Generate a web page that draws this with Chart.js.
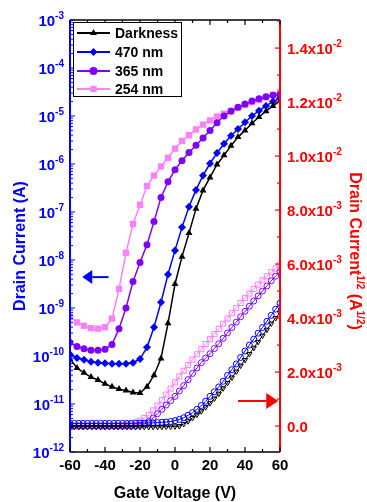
<!DOCTYPE html>
<html>
<head>
<meta charset="utf-8">
<script src="https://cdn.jsdelivr.net/npm/chart.js@4/dist/chart.umd.min.js"></script>
<style>
html, body { margin: 0; padding: 0; background: #fff; }
#wrap { width: 367px; height: 502px; }
</style>
</head>
<body>
<div id="wrap"><canvas id="chart" width="367" height="502"></canvas></div>
<script>
// transfer curves, log scale (values are log10 of drain current in A)
var gateLog = [-60,-56,-52,-48,-44,-40,-36,-32,-28,-24,-20,-16,-12,-8,-4,0,4,8,12,16,20,24,28,32,36,40,44,48,52,56,60];
var darkLog = [-10.06,-10.25,-10.35,-10.44,-10.50,-10.58,-10.64,-10.69,-10.72,-10.76,-10.77,-10.64,-10.40,-10.05,-9.32,-8.50,-7.93,-7.44,-6.93,-6.55,-6.28,-6.01,-5.82,-5.62,-5.44,-5.30,-5.15,-5.02,-4.90,-4.79,-4.69];
var blueLog = [-9.97,-10.04,-10.08,-10.12,-10.14,-10.15,-10.16,-10.16,-10.16,-10.14,-10.06,-9.82,-9.40,-8.88,-8.30,-7.80,-7.32,-6.89,-6.54,-6.24,-5.99,-5.77,-5.58,-5.41,-5.27,-5.13,-5.00,-4.89,-4.79,-4.70,-4.63];
var violetLog = [-9.72,-9.80,-9.85,-9.88,-9.88,-9.86,-9.76,-9.43,-9.00,-8.45,-8.05,-7.68,-7.20,-6.70,-6.37,-6.12,-5.93,-5.76,-5.61,-5.46,-5.30,-5.14,-5.00,-4.90,-4.82,-4.75,-4.69,-4.64,-4.60,-4.57,-4.55];
var pinkLog = [-9.18,-9.30,-9.37,-9.42,-9.43,-9.40,-9.22,-8.60,-7.85,-7.25,-6.85,-6.46,-6.24,-6.05,-5.87,-5.68,-5.52,-5.40,-5.28,-5.18,-5.09,-5.01,-4.95,-4.89,-4.83,-4.77,-4.71,-4.66,-4.61,-4.56,-4.50];

// sqrt(Id) curves, in units of 1e-3 A^1/2
var gateSqrt = [-60,-57.5,-55,-52.5,-50,-47.5,-45,-42.5,-40,-37.5,-35,-32.5,-30,-27.5,-25,-22.5,-20,-17.5,-15,-12.5,-10,-7.5,-5,-2.5,0,2.5,5,7.5,10,12.5,15,17.5,20,22.5,25,27.5,30,32.5,35,37.5,40,42.5,45,47.5,50,52.5,55,57.5,60];
var darkSqrt = [-0.03,-0.03,-0.03,-0.03,-0.03,-0.03,-0.03,-0.03,-0.03,-0.03,-0.03,-0.03,-0.03,-0.03,-0.03,-0.03,-0.03,-0.03,-0.03,-0.03,-0.03,-0.03,-0.02,-0.02,-0.01,0.00,0.08,0.18,0.30,0.42,0.55,0.70,0.85,1.02,1.20,1.40,1.60,1.80,2.02,2.24,2.45,2.67,2.90,3.12,3.35,3.57,3.80,4.00,4.20];
var blueSqrt = [0.10,0.10,0.10,0.10,0.10,0.10,0.10,0.10,0.10,0.10,0.10,0.10,0.10,0.10,0.10,0.10,0.11,0.11,0.12,0.12,0.13,0.14,0.15,0.17,0.20,0.25,0.31,0.40,0.50,0.62,0.76,0.92,1.10,1.27,1.45,1.66,1.88,2.09,2.30,2.54,2.78,3.00,3.22,3.44,3.65,3.88,4.10,4.33,4.55];
var violetSqrt = [0,0,0,0,0,0,0,0,0,0,0,0,0,0,0,0,0.03,0.08,0.17,0.30,0.46,0.62,0.78,0.94,1.10,1.30,1.50,1.72,1.95,2.15,2.35,2.52,2.68,2.87,3.05,3.25,3.45,3.65,3.85,4.05,4.25,4.44,4.63,4.82,5.00,5.19,5.38,5.55,5.72];
var pinkSqrt = [0,0,0,0,0,0,0,0,0,0,0,0,0.02,0.05,0.09,0.14,0.20,0.30,0.42,0.58,0.76,0.96,1.17,1.39,1.62,1.84,2.05,2.26,2.46,2.66,2.85,3.04,3.22,3.41,3.60,3.79,3.98,4.18,4.38,4.56,4.74,4.91,5.08,5.24,5.40,5.55,5.70,5.84,5.97];

var seriesNames = ['Darkness', '470 nm', '365 nm', '254 nm'];
var colors = ['#000000', '#0000ff', '#8000ff', '#ff80ff'];
var solidStyles = ['triangle', 'rectRot', 'circle', 'rect'];
var openStyles = ['triangle', 'circle', 'circle', 'rect'];

var xTicks = [-60, -40, -20, 0, 20, 40, 60];
var leftDecades = [-12, -11, -10, -9, -8, -7, -6, -5, -4, -3];
var rightTicks = [0, 2, 4, 6, 8, 10, 12, 14]; // x 1e-3
var rightLabels = [['0.0', ''], ['2.0x10', '-3'], ['4.0x10', '-3'], ['6.0x10', '-3'], ['8.0x10', '-3'],
                   ['1.0x10', '-2'], ['1.2x10', '-2'], ['1.4x10', '-2']];

var FONT = '"Liberation Sans", Arial, Helvetica, sans-serif';

function logPoints(xs, ys) {
    return xs.map(function (x, i) { return {x: x, y: Math.pow(10, ys[i])}; });
}
function sqrtPoints(xs, ys) {
    return xs.map(function (x, i) { return {x: x, y: ys[i] * 1e-3}; });
}

var logSets = [darkLog, blueLog, violetLog, pinkLog];
var sqrtSets = [darkSqrt, blueSqrt, violetSqrt, pinkSqrt];
var datasets = [];

logSets.forEach(function (s, i) {
    datasets.push({
        label: seriesNames[i],
        data: logPoints(gateLog, s),
        yAxisID: 'y',
        borderColor: colors[i],
        backgroundColor: colors[i],
        borderWidth: 1.5,
        pointStyle: solidStyles[i],
        pointRadius: i == 3 ? 4.5 : (i == 2 ? 3.5 : 4),
        pointBorderWidth: 0,
        pointBackgroundColor: colors[i],
        tension: 0
    });
});
sqrtSets.forEach(function (s, i) {
    datasets.push({
        label: seriesNames[i] + ' sqrt',
        data: sqrtPoints(gateSqrt, s),
        yAxisID: 'y1',
        borderColor: colors[i],
        backgroundColor: '#ffffff',
        borderWidth: 1,
        pointStyle: openStyles[i],
        pointRotation: i == 0 ? 180 : 0,
        pointRadius: i == 3 ? 3.6 : 3,
        pointBorderWidth: 1,
        pointBorderColor: colors[i],
        pointBackgroundColor: 'rgba(255,255,255,0)',
        tension: 0
    });
});

function line(ctx, x1, y1, x2, y2) {
    ctx.beginPath();
    ctx.moveTo(x1, y1);
    ctx.lineTo(x2, y2);
    ctx.stroke();
}

// text with an optional superscript tail: parts = [[text, isSup], ...]
function richText(ctx, parts, x, y, align, size, supSize) {
    var widths = parts.map(function (p) {
        ctx.font = 'bold ' + (p[1] ? supSize : size) + 'px ' + FONT;
        return ctx.measureText(p[0]).width;
    });
    var total = widths.reduce(function (a, b) { return a + b; }, 0);
    var cx = align == 'right' ? x - total : (align == 'center' ? x - total / 2 : x);
    ctx.textAlign = 'left';
    ctx.textBaseline = 'alphabetic';
    parts.forEach(function (p, i) {
        ctx.font = 'bold ' + (p[1] ? supSize : size) + 'px ' + FONT;
        ctx.fillText(p[0], cx, p[1] ? y - size * 0.42 : y);
        cx += widths[i];
    });
}

function arrow(ctx, x1, x2, y, head, half, color) {
    var dir = x2 > x1 ? 1 : -1;
    ctx.strokeStyle = color;
    ctx.fillStyle = color;
    ctx.lineWidth = 2;
    line(ctx, x1, y, x2 - dir * head, y);
    ctx.beginPath();
    ctx.moveTo(x2, y);
    ctx.lineTo(x2 - dir * head, y - half);
    ctx.lineTo(x2 - dir * head, y + half);
    ctx.closePath();
    ctx.fill();
}

function marker(ctx, style, x, y, r, color) {
    Chart.helpers.drawPoint(ctx, {pointStyle: style, radius: r, rotation: 0, borderWidth: 0}, x, y);
}

var decor = {
    id: 'decor',
    afterDraw: function (chart) {
        var ctx = chart.ctx, a = chart.chartArea,
            sx = chart.scales.x, sl = chart.scales.y, sr = chart.scales.y1;
        ctx.save();

        // frame
        ctx.lineWidth = 1.5;
        ctx.strokeStyle = '#000';
        line(ctx, a.left, a.top, a.right, a.top);
        line(ctx, a.left, a.bottom, a.right, a.bottom);
        ctx.lineWidth = 2;
        ctx.strokeStyle = '#0000ff';
        line(ctx, a.left, a.top, a.left, a.bottom);
        ctx.strokeStyle = '#ff0000';
        line(ctx, a.right, a.top, a.right, a.bottom);

        // x ticks (bottom + top)
        ctx.strokeStyle = '#000';
        ctx.lineWidth = 1.2;
        for (var v = -60; v <= 60; v += 10) {
            var px = sx.getPixelForValue(v), len = v % 20 == 0 ? 5 : 3;
            line(ctx, px, a.bottom, px, a.bottom - len);
            line(ctx, px, a.top, px, a.top + len);
        }
        ctx.fillStyle = '#000';
        ctx.font = 'bold 15px ' + FONT;
        ctx.textAlign = 'center';
        ctx.textBaseline = 'middle';
        xTicks.forEach(function (t) {
            ctx.fillText(String(t), sx.getPixelForValue(t), 466);
        });

        // left log ticks
        ctx.strokeStyle = '#0000ff';
        ctx.lineWidth = 1;
        leftDecades.forEach(function (d) {
            var py = sl.getPixelForValue(Math.pow(10, d));
            line(ctx, a.left, py, a.left + 5, py);
            if (d < -3) {
                for (var k = 2; k <= 9; k++) {
                    var pm = sl.getPixelForValue(k * Math.pow(10, d));
                    line(ctx, a.left, pm, a.left + 3, pm);
                }
            }
        });
        ctx.fillStyle = '#0000ff';
        leftDecades.forEach(function (d) {
            var py = sl.getPixelForValue(Math.pow(10, d));
            richText(ctx, [['10', false], [String(d), true]], 64, py + 5.5, 'right', 15, 10);
        });

        // right linear ticks
        ctx.strokeStyle = '#ff0000';
        ctx.lineWidth = 1.2;
        for (var m = 0; m <= 15; m++) {
            var pr = sr.getPixelForValue(m * 1e-3);
            line(ctx, a.right, pr, a.right - (m % 2 == 0 ? 5 : 3), pr);
        }
        ctx.fillStyle = '#ff0000';
        rightTicks.forEach(function (t, i) {
            var py = sr.getPixelForValue(t * 1e-3);
            var lab = rightLabels[i];
            var parts = [[lab[0], false]];
            if (lab[1]) parts.push([lab[1], true]);
            richText(ctx, parts, 287, py + 5.5, 'left', 15, 10);
        });

        // axis titles
        ctx.fillStyle = '#000';
        richText(ctx, [['Gate Voltage (V)', false]], (a.left + a.right) / 2, 498, 'center', 16, 11);

        ctx.save();
        ctx.translate(25, 246);
        ctx.rotate(-Math.PI / 2);
        ctx.fillStyle = '#0000ff';
        richText(ctx, [['Drain Current (A)', false]], 0, 0, 'center', 16, 11);
        ctx.restore();

        ctx.save();
        ctx.translate(350, 251);
        ctx.rotate(Math.PI / 2);
        ctx.fillStyle = '#ff0000';
        richText(ctx, [['Drain Current', false], ['1/2', true], [' (A', false], ['1/2', true], [')', false]],
                 0, 0, 'center', 16, 10);
        ctx.restore();

        // arrows, placed in data coordinates
        var ay = sl.getPixelForValue(4.4e-9);
        arrow(ctx, sx.getPixelForValue(-38), sx.getPixelForValue(-53), ay, 10, 7, '#0000ff');
        var by = sr.getPixelForValue(0.93e-3);
        arrow(ctx, sx.getPixelForValue(36), sx.getPixelForValue(59), by, 12, 8, '#ff0000');

        // legend
        ctx.fillStyle = '#fff';
        ctx.fillRect(73, 22, 109, 75);
        ctx.strokeStyle = '#000';
        ctx.lineWidth = 1;
        ctx.strokeRect(73.5, 22.5, 108, 74);
        var rows = [33, 52, 71, 89];
        seriesNames.forEach(function (n, i) {
            var ly = rows[i];
            ctx.strokeStyle = colors[i];
            ctx.fillStyle = colors[i];
            ctx.lineWidth = 2;
            line(ctx, 77, ly, 110, ly);
            ctx.strokeStyle = colors[i];
            marker(ctx, solidStyles[i], 93.5, ly, i == 3 ? 4.5 : 4, colors[i]);
            ctx.fillStyle = '#000';
            ctx.font = 'bold 14px ' + FONT;
            ctx.textAlign = 'left';
            ctx.textBaseline = 'middle';
            ctx.fillText(n, 115, ly + 1);
        });

        ctx.restore();
    }
};

new Chart(document.getElementById('chart'), {
    type: 'line',
    data: { datasets: datasets },
    options: {
        responsive: false,
        animation: false,
        devicePixelRatio: 1,
        layout: { padding: { top: 20, left: 0, right: 0, bottom: 0 } },
        plugins: { legend: { display: false }, tooltip: { enabled: false } },
        scales: {
            x: {
                type: 'linear', min: -60, max: 60,
                grid: { display: false }, border: { display: false },
                ticks: { display: false },
                afterFit: function (s) { s.height = 50; }
            },
            y: {
                type: 'logarithmic', position: 'left', min: 1e-12, max: 1e-3,
                grid: { display: false }, border: { display: false },
                ticks: { display: false },
                afterFit: function (s) { s.width = 70; }
            },
            y1: {
                type: 'linear', position: 'right', min: -0.00096, max: 0.01504,
                grid: { display: false }, border: { display: false },
                ticks: { display: false },
                afterFit: function (s) { s.width = 87; }
            }
        }
    },
    plugins: [decor]
});
</script>
</body>
</html>
